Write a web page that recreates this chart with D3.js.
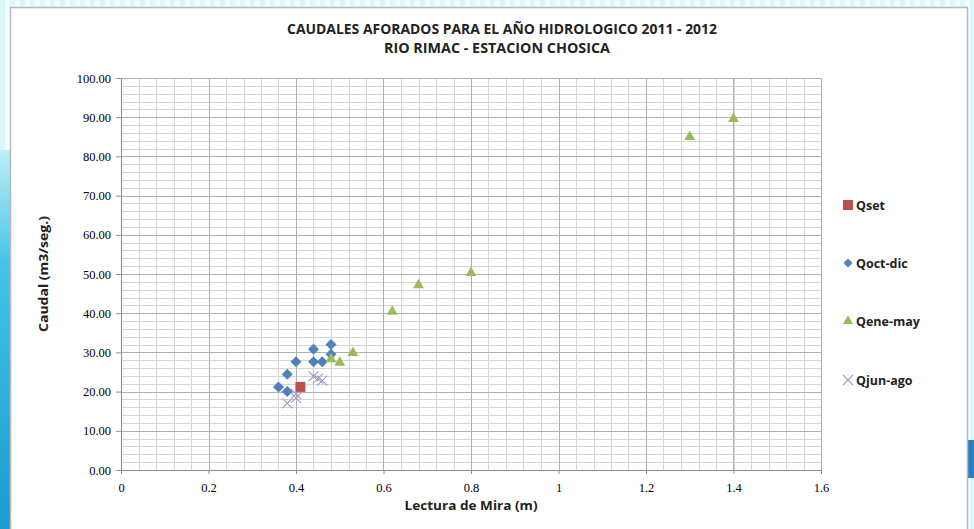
<!DOCTYPE html>
<html>
<head>
<meta charset="utf-8">
<script src="https://cdn.jsdelivr.net/npm/d3@7"></script>
<style>
  body { margin: 0; padding: 0; background: #fff; }
  svg { display: block; }
</style>
</head>
<body>
<svg id="chart"></svg>
<script>
// data: [lectura (m), caudal (m3/seg.)]
const qset = [[0.41, 21.2]];
const qoctdic = [[0.36, 21.2], [0.38, 20.0], [0.38, 24.4], [0.40, 27.6], [0.44, 30.8],
                 [0.44, 27.6], [0.46, 27.6], [0.48, 32.0], [0.48, 29.5]];
const qenemay = [[0.48, 28.3], [0.50, 27.4], [0.53, 29.9], [0.62, 40.4], [0.68, 47.2],
                 [0.80, 50.3], [1.30, 85.0], [1.40, 89.6]];
const qjunago = [[0.38, 17.0], [0.40, 18.4], [0.40, 19.4], [0.44, 23.9], [0.45, 23.3], [0.46, 22.8]];
const xticks = [0, 0.2, 0.4, 0.6, 0.8, 1, 1.2, 1.4, 1.6];
const yticks = [0, 10, 20, 30, 40, 50, 60, 70, 80, 90, 100];
const seriesNames = ['Qset', 'Qoct-dic', 'Qene-may', 'Qjun-ago'];

const W = 974, H = 529;
const margin = {top: 78, right: 153, bottom: 59, left: 121};

const svg = d3.select('#chart')
    .attr('width', W)
    .attr('height', H);

// page background (light cyan stripes + some blue water at the edges)
const defs = svg.append('defs');
const pat = defs.append('pattern')
    .attr('id', 'stripes')
    .attr('width', 10).attr('height', 10)
    .attr('patternUnits', 'userSpaceOnUse');
pat.append('rect').attr('width', 10).attr('height', 10).attr('fill', '#f2feff');
pat.append('rect').attr('width', 5).attr('height', 10).attr('fill', '#d8f8fc');

const water = defs.append('linearGradient')
    .attr('id', 'water').attr('x1', 0).attr('y1', 0).attr('x2', 0).attr('y2', 1);
water.append('stop').attr('offset', '0%').attr('stop-color', '#bfeef7');
water.append('stop').attr('offset', '30%').attr('stop-color', '#45c3e6');
water.append('stop').attr('offset', '100%').attr('stop-color', '#1f98d0');

svg.append('rect').attr('width', W).attr('height', H).attr('fill', 'url(#stripes)');
svg.append('rect').attr('x', 0).attr('y', 150).attr('width', 11).attr('height', H - 150)
    .attr('fill', 'url(#water)');
svg.append('rect').attr('x', 968).attr('y', 440).attr('width', 6).attr('height', 38)
    .attr('fill', '#2a7fc0');

// white chart area
svg.append('rect')
    .attr('x', 10.5).attr('y', 7.5)
    .attr('width', 957).attr('height', H)
    .attr('fill', '#fff')
    .attr('stroke', '#b8b8b8')
    .attr('stroke-width', 1.5);

const iw = W - margin.left - margin.right;
const ih = H - margin.top - margin.bottom;

const x = d3.scaleLinear().domain([0, 1.6]).range([0, iw]);
const y = d3.scaleLinear().domain([0, 100]).range([ih, 0]);

const chart = svg.append('g')
    .attr('transform', `translate(${margin.left}, ${margin.top})`);

// minor grid
const grid = chart.append('g');
grid.selectAll('line.vmin')
    .data(d3.range(0, 41).map(i => i * 0.04))
    .join('line')
    .attr('x1', d => Math.round(x(d)) + 0.5).attr('x2', d => Math.round(x(d)) + 0.5)
    .attr('y1', 0).attr('y2', ih)
    .attr('stroke', '#d4d4d4');
grid.selectAll('line.hmin')
    .data(d3.range(0, 51).map(i => i * 2))
    .join('line')
    .attr('y1', d => Math.round(y(d)) + 0.5).attr('y2', d => Math.round(y(d)) + 0.5)
    .attr('x1', 0).attr('x2', iw)
    .attr('stroke', '#d4d4d4');
// major grid
grid.selectAll('line.vmaj')
    .data(xticks)
    .join('line')
    .attr('x1', d => Math.round(x(d)) + 0.5).attr('x2', d => Math.round(x(d)) + 0.5)
    .attr('y1', 0).attr('y2', ih)
    .attr('stroke', '#b0b0b0');
grid.selectAll('line.hmaj')
    .data(yticks)
    .join('line')
    .attr('y1', d => Math.round(y(d)) + 0.5).attr('y2', d => Math.round(y(d)) + 0.5)
    .attr('x1', 0).attr('x2', iw)
    .attr('stroke', '#b0b0b0');

// axes
const xaxis = d3.axisBottom(x)
    .tickValues(xticks)
    .tickFormat(d => d3.format('')(+d.toFixed(1)))
    .tickSize(4)
    .tickPadding(9)
    .tickSizeOuter(0);
const yaxis = d3.axisLeft(y)
    .tickValues(yticks)
    .tickFormat(d3.format('.2f'))
    .tickSize(5)
    .tickPadding(5)
    .tickSizeOuter(0);

const xg = chart.append('g')
    .attr('transform', `translate(0, ${ih})`)
    .call(xaxis);
const yg = chart.append('g')
    .call(yaxis);

[xg, yg].forEach(g => {
    g.select('.domain').attr('stroke', '#8c8c8c');
    g.selectAll('.tick line').attr('stroke', '#8c8c8c');
    g.selectAll('.tick text')
        .attr('fill', '#000')
        .style('font-family', '"Liberation Serif", "DejaVu Serif", serif')
        .style('font-size', '12.5px');
});

// markers
const colors = {set: '#c0504d', oct: '#4f81bd', ene: '#9bbb59', jun: '#a497c4'};
const diamond = 'M0,-5.5L5.5,0L0,5.5L-5.5,0Z';
const cross = 'M-5,-5L5,5M-5,5L5,-5';

chart.append('g').selectAll('path')
    .data(qoctdic)
    .join('path')
    .attr('transform', d => `translate(${x(d[0])}, ${y(d[1])})`)
    .attr('d', diamond)
    .attr('fill', colors.oct);

chart.append('g').selectAll('path')
    .data(qenemay)
    .join('path')
    .attr('transform', d => `translate(${x(d[0])}, ${y(d[1])})`)
    .attr('d', d3.symbol().type(d3.symbolTriangle).size(52))
    .attr('fill', colors.ene);

chart.append('g').selectAll('path')
    .data(qjunago)
    .join('path')
    .attr('transform', d => `translate(${x(d[0])}, ${y(d[1])})`)
    .attr('d', cross)
    .attr('stroke', colors.jun)
    .attr('stroke-width', 1.1)
    .attr('fill', 'none');

chart.append('g').selectAll('rect')
    .data(qset)
    .join('rect')
    .attr('x', d => x(d[0]) - 5)
    .attr('y', d => y(d[1]) - 5)
    .attr('width', 10)
    .attr('height', 10)
    .attr('fill', colors.set);

// titles
const sans = '"Open Sans", "Liberation Sans", sans-serif';
svg.append('text')
    .attr('x', 502).attr('y', 34)
    .attr('text-anchor', 'middle')
    .attr('textLength', 430).attr('lengthAdjust', 'spacingAndGlyphs')
    .style('font-family', sans).style('font-weight', 'bold').style('font-size', '14px')
    .attr('fill', '#222')
    .text('CAUDALES AFORADOS PARA EL AÑO HIDROLOGICO 2011 - 2012');
svg.append('text')
    .attr('x', 497).attr('y', 53)
    .attr('text-anchor', 'middle')
    .attr('textLength', 226).attr('lengthAdjust', 'spacingAndGlyphs')
    .style('font-family', sans).style('font-weight', 'bold').style('font-size', '14px')
    .attr('fill', '#222')
    .text('RIO RIMAC - ESTACION CHOSICA');

svg.append('text')
    .attr('x', 471).attr('y', 510)
    .attr('text-anchor', 'middle')
    .attr('textLength', 133).attr('lengthAdjust', 'spacingAndGlyphs')
    .style('font-family', sans).style('font-weight', 'bold').style('font-size', '13px')
    .attr('fill', '#222')
    .text('Lectura de Mira (m)');
svg.append('text')
    .attr('transform', 'translate(48, 274) rotate(-90)')
    .attr('text-anchor', 'middle')
    .attr('textLength', 116).attr('lengthAdjust', 'spacingAndGlyphs')
    .style('font-family', sans).style('font-weight', 'bold').style('font-size', '13px')
    .attr('fill', '#222')
    .text('Caudal (m3/seg.)');

// legend
const legend = svg.append('g').attr('transform', 'translate(848, 0)');
const legendY = [205, 263, 321, 380];
const lfont = s => s.style('font-family', sans).style('font-weight', 'bold')
    .style('font-size', '12.5px').attr('fill', '#222');

legend.append('rect').attr('x', -5).attr('y', legendY[0] - 5).attr('width', 10).attr('height', 10)
    .attr('fill', colors.set);
legend.append('path').attr('transform', `translate(0, ${legendY[1]})`)
    .attr('d', 'M0,-4.5L4.5,0L0,4.5L-4.5,0Z').attr('fill', colors.oct);
legend.append('path').attr('transform', `translate(0, ${legendY[2]})`)
    .attr('d', d3.symbol().type(d3.symbolTriangle).size(44)).attr('fill', colors.ene);
legend.append('path').attr('transform', `translate(0, ${legendY[3]})`)
    .attr('d', cross).attr('stroke', colors.jun).attr('stroke-width', 1.1);

legend.selectAll('text')
    .data(seriesNames)
    .join('text')
    .attr('x', 8)
    .attr('y', (d, i) => legendY[i] + 5)
    .call(lfont)
    .text(d => d);
</script>
</body>
</html>
